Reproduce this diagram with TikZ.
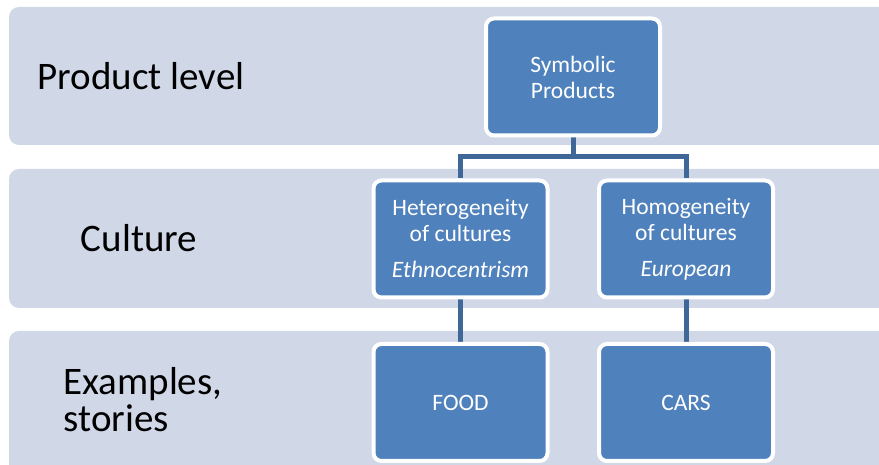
\documentclass[tikz,border=0pt]{standalone}
\usepackage{fontspec}
\setmainfont{Carlito}
\usepackage{xcolor}
\usetikzlibrary{calc, backgrounds}

\definecolor{bandfill}{HTML}{D0D8E8}
\definecolor{boxfill}{HTML}{4F81BD}
\definecolor{linkcol}{HTML}{3F6797}

\begin{document}
\begin{tikzpicture}[x = 1pt, y = 1pt,
    band/.style = {fill=bandfill, rounded corners=10pt},
    unit/.style = {draw=white, line width=4pt, fill=boxfill, rounded corners=8pt,
                   minimum width=174pt, minimum height=117pt, align=center,
                   text=white, font=\fontsize{23.5}{26}\selectfont},
    lvl/.style = {font=\fontsize{39}{40}\selectfont, align=left},
    link/.style = {draw=linkcol, line width=5pt}]

   \useasboundingbox (0,0) rectangle (879,465);

    % Draw the bands
    \begin{scope}[on background layer]
    \path[band] (9,320) rectangle (900,458);
    \path[band] (9,157) rectangle (900,296);
    \path[band] (9,-20) rectangle (900,134);
    \end{scope}

    % Label the levels
    \node[lvl] (lvlprod) at (141,389) {Product level};
    \node[lvl] (lvlcult) at (139,227) {Culture};
    \node[lvl, anchor=west] (lvlex) at (60,65) {Examples,\\[-3pt]stories};

    % Place the boxes
    \node[unit] (sym) at (573,388) {Symbolic\\Products};
    \node[unit] (het) at (460.5,226) {Heterogeneity\\of cultures\\[10pt]\textit{Ethnocentrism}};
    \node[unit] (hom) at (686,226) {Homogeneity\\of cultures\\[10pt]\textit{European}};
    \node[unit] (food) at (460.5,62.5) {FOOD};
    \node[unit] (cars) at (686,62.5) {CARS};

    % Draw the links
    \coordinate (J) at (573,308);
    \begin{scope}[on background layer]
    \draw[link] (sym) -- (J);
    \draw[link] (J) -| (het);
    \draw[link] (J) -| (hom);
    \draw[link] (het) -- (food);
    \draw[link] (hom) -- (cars);
    \end{scope}

\end{tikzpicture}
\end{document}
